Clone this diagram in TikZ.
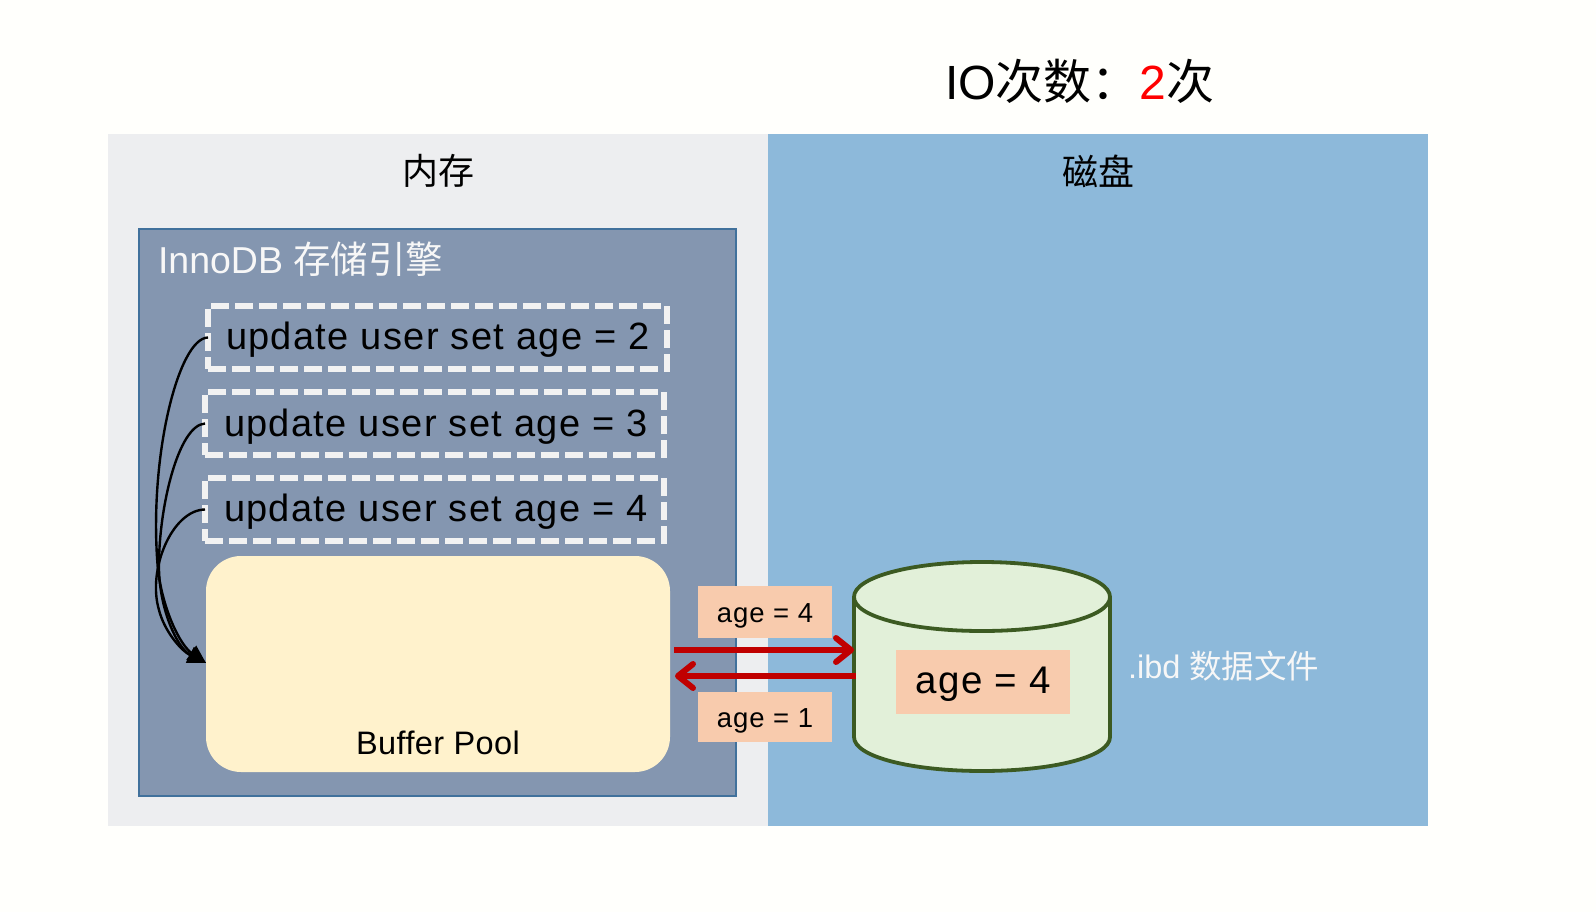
\documentclass[tikz,border=0pt]{standalone}
\usepackage{fontspec}
\setmainfont{Liberation Sans}
\newfontfamily\cjk{Noto Sans CJK SC}
\newfontfamily\spaced[LetterSpace=3.6]{Liberation Sans}
\newfontfamily\slight[LetterSpace=1.2]{Liberation Sans}
\usetikzlibrary{arrows.meta}
\definecolor{panelgray}{HTML}{EDEEF0}
\definecolor{panelblue}{HTML}{8DB9DA}
\definecolor{innobg}{HTML}{8496B0}
\definecolor{innoedge}{HTML}{41719C}
\definecolor{poolfill}{HTML}{FFF2CC}
\definecolor{tagfill}{HTML}{F8CBAD}
\definecolor{cylfill}{HTML}{E2F0D9}
\definecolor{cyledge}{HTML}{3C5A22}
\definecolor{dashwhite}{HTML}{F2F2F2}
\definecolor{lighttext}{HTML}{F7F7F7}
\definecolor{redarrow}{HTML}{C00000}
\tikzset{
  x=1pt,y=-1pt,outer sep=0pt,
  panel/.style={minimum width=660pt,minimum height=692pt,inner sep=0pt,anchor=north west},
  sqlbox/.style={draw=dashwhite,line width=6pt,dash pattern=on 18pt off 6pt,minimum width=459pt,minimum height=63pt,inner sep=0pt,anchor=north west},
  sqltext/.style={font=\fontsize{38}{40}\selectfont\spaced,text=black,anchor=base west,inner sep=0pt},
  tag/.style={fill=tagfill,inner sep=0pt,anchor=north west,text depth=0pt},
  flow/.style={draw=black,line width=2.4pt,-{Triangle[length=18pt,width=17pt]}},
  iopath/.style={draw=redarrow,line width=6pt,-{Straight Barb[length=15pt,width=24pt,line width=6pt,round]}},
}
\begin{document}
\begin{tikzpicture}
\useasboundingbox (0,0) rectangle (1596,912);
\fill[white!99!yellow] (0,0) rectangle (1596,912);
\node[panel,fill=panelgray] (mem) at (108,134) {};
\node[panel,fill=panelblue] (disk) at (768,134) {};
\node[font=\fontsize{36}{40}\selectfont\cjk,inner sep=0pt] (memt) at (438,171) {内存};
\node[font=\fontsize{36}{40}\selectfont\cjk,inner sep=0pt] (diskt) at (1098,171) {磁盘};
\node[inner sep=0pt,anchor=base] (io) at (1080,100) {\fontsize{48}{56}\selectfont IO{\cjk 次数：}\textcolor{red}{2}{\cjk 次}};
\node[draw=innoedge,fill=innobg,line width=1.5pt,minimum width=597pt,minimum height=567pt,inner sep=0pt,anchor=north west] (inno) at (139,229) {};
\node[anchor=base west,inner sep=0pt,text=lighttext] (innot) at (158,273) {\fontsize{37.5}{40}\selectfont InnoDB {\cjk 存储引擎}};
\node[sqlbox] (s1) at (208,306) {};
\node[sqlbox] (s2) at (205,392) {};
\node[sqlbox] (s3) at (205,478) {};
\node[sqltext] (s1t) at (226,349) {update user set age = 2};
\node[sqltext] (s2t) at (224,436) {update user set age = 3};
\node[sqltext] (s3t) at (224,521) {update user set age = 4};
\node[fill=poolfill,rounded corners=35pt,minimum width=464pt,minimum height=216pt,inner sep=0pt,anchor=north west] (pool) at (206,556) {};
\node[font=\fontsize{32.5}{38}\selectfont\slight,anchor=base,inner sep=0pt] (poolt) at (438,754) {Buffer Pool};
\coordinate (in) at (206,663);
\draw[flow] (s1.west) .. controls (178,338) and (148,460) .. (158,570) .. controls (163,610) and (180,645) .. (in);
\draw[flow] (s2.west) .. controls (178,425) and (158,510) .. (159,570) .. controls (160,610) and (177,648) .. (in);
\draw[flow] (s3.west) .. controls (172,510) and (147,570) .. (159,610) .. controls (164,630) and (180,650) .. (in);
% cylinder
\path[draw=cyledge,fill=cylfill,line width=3.8pt] (854,597) -- (854,737) .. controls (854,757) and (912,771) .. (982,771) .. controls (1052,771) and (1110,757) .. (1110,737) -- (1110,597) .. controls (1110,577) and (1052,562) .. (982,562) .. controls (912,562) and (854,577) .. (854,597) -- cycle;
\node[inner sep=0pt,minimum width=1pt,minimum height=1pt] (cyl) at (982,667) {};
\draw[cyledge,line width=3.8pt] (854,597) .. controls (854,617) and (912,631) .. (982,631) .. controls (1052,631) and (1110,617) .. (1110,597);
\node[tag,minimum width=174pt,minimum height=64pt,text height=23pt,font=\fontsize{38.5}{40}\selectfont\spaced] (d4) at (896,650) {age = 4};
\node[tag,minimum width=134pt,minimum height=52pt,text height=20pt,font=\fontsize{27.5}{32}\selectfont\spaced] (t4) at (698,586) {age = 4};
\node[tag,minimum width=134pt,minimum height=50pt,text height=20pt,font=\fontsize{27.5}{32}\selectfont\spaced] (t1) at (698,692) {age = 1};
\coordinate (c1) at (854,650);
\coordinate (c2) at (856,676);
\coordinate (p1) at (674,650);
\coordinate (p2) at (675,676);
\draw[iopath] (p1) -- (c1);
\draw[iopath] (c2) -- (p2);
\node[anchor=base west,inner sep=0pt,text=lighttext] (ibd) at (1128,678) {\fontsize{32.5}{38}\selectfont .ibd {\cjk 数据文件}};
\end{tikzpicture}
\end{document}
